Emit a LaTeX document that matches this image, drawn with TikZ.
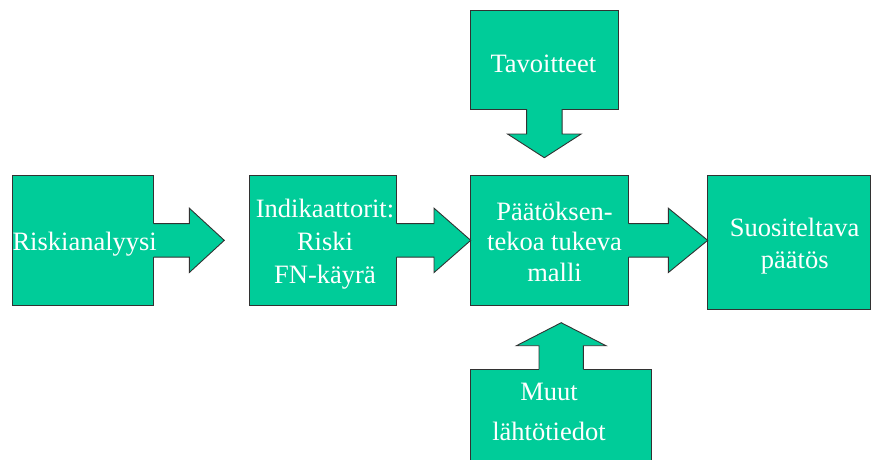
\documentclass[tikz,border=0pt]{standalone}
\usepackage{fontspec}
\setmainfont{Liberation Serif}
\usetikzlibrary{calc}
\definecolor{blockfill}{RGB}{0,204,153}
\definecolor{blockline}{RGB}{50,50,50}
\begin{document}
\begin{tikzpicture}[x=1pt,y=-1pt,
  block/.style={draw=blockline, fill=blockfill, line width=0.9pt, inner sep=0pt, outer sep=0pt},
  afill/.style={fill=blockfill},
  aline/.style={draw=blockline, line width=0.9pt, line join=miter},
  lbl/.style={text=white, align=center, inner sep=0pt, anchor=base, font=\fontsize{26.5}{33}\selectfont}]
\useasboundingbox (0,0) rectangle (871,459);
\clip (0,0) rectangle (871,459);
% boxes
\node[block, minimum width=141pt, minimum height=130.7pt] (A) at (83.2,240.35) {};
\node[block, minimum width=147.4pt, minimum height=130.7pt] (B) at (323,240.35) {};
\node[block, minimum width=158pt, minimum height=130.7pt] (C) at (549.7,240.35) {};
\node[block, minimum width=163pt, minimum height=134pt] (D) at (789.2,242) {};
\node[block, minimum width=147.3pt, minimum height=98.3pt] (T) at (544.35,59.85) {};
\node[block, minimum width=181pt, minimum height=120pt] (M) at (561.2,429) {};
% right arrows
\fill[afill] ([xshift=-1pt]A.east) ++(0,-16.7) -- ++(36.6,0) -- ++(0,-15.5) -- ++(35,32.2) -- ++(-35,32.2) -- ++(0,-15.5) -- ++(-36.6,0) -- cycle;
\draw[aline] (A.east) ++(0,-16.7) -- ++(35.6,0) -- ++(0,-15.5) -- ++(35,32.2) -- ++(-35,32.2) -- ++(0,-15.5) -- ++(-35.6,0);
\fill[afill] ([xshift=-1pt]B.east) ++(0,-16.7) -- ++(38.3,0) -- ++(0,-15.5) -- ++(36.7,32.2) -- ++(-36.7,32.2) -- ++(0,-15.5) -- ++(-38.3,0) -- cycle;
\draw[aline] (B.east) ++(0,-16.7) -- ++(37.3,0) -- ++(0,-15.5) -- ++(36.7,32.2) -- ++(-36.7,32.2) -- ++(0,-15.5) -- ++(-37.3,0);
\fill[afill] ([xshift=-1pt]C.east) ++(0,-16.7) -- ++(40.6,0) -- ++(0,-15.5) -- ++(39.4,32.2) -- ++(-39.4,32.2) -- ++(0,-15.5) -- ++(-40.6,0) -- cycle;
\draw[aline] (C.east) ++(0,-16.7) -- ++(39.6,0) -- ++(0,-15.5) -- ++(39.4,32.2) -- ++(-39.4,32.2) -- ++(0,-15.5) -- ++(-39.6,0);
% down arrow from T
\fill[afill] ([yshift=1pt]T.south) ++(-17.8,0) -- ++(0,26) -- ++(-19,0) -- ++(36.8,23.7) -- ++(36.8,-23.7) -- ++(-19,0) -- ++(0,-26) -- cycle;
\draw[aline] (T.south) ++(-17.8,0) -- ++(0,25) -- ++(-19,0) -- ++(36.8,23.7) -- ++(36.8,-23.7) -- ++(-19,0) -- ++(0,-25);
% up arrow from M
\fill[afill] ([yshift=-1pt]M.north) ++(-22.2,0) -- ++(0,-24.3) -- ++(-22.6,0) -- ++(44.8,-23) -- ++(44.8,23) -- ++(-22.6,0) -- ++(0,24.3) -- cycle;
\draw[aline] (M.north) ++(-22.2,0) -- ++(0,-23.3) -- ++(-22.6,0) -- ++(44.8,-23) -- ++(44.8,23) -- ++(-22.6,0) -- ++(0,23.3);
% labels (multi-line: base anchor = last line)
\node[lbl] (tA) at (84.7,250) {Riskianalyysi};
\node[lbl, font=\fontsize{26.5}{33}\selectfont] (tB) at (325,283.3) {Indikaattorit:\\Riski\\FN-käyrä};
\node[lbl, font=\fontsize{26.5}{30.5}\selectfont] (tC) at (554.5,281) {Päätöksen-\\tekoa tukeva\\malli};
\node[lbl, font=\fontsize{26.5}{31.6}\selectfont] (tD) at (794.7,268.3) {Suositeltava\\päätös};
\node[lbl] (tT) at (543.3,72.7) {Tavoitteet};
\node[lbl, font=\fontsize{26.5}{40}\selectfont] (tM) at (549,440) {Muut\\lähtötiedot};
\end{tikzpicture}
\end{document}
